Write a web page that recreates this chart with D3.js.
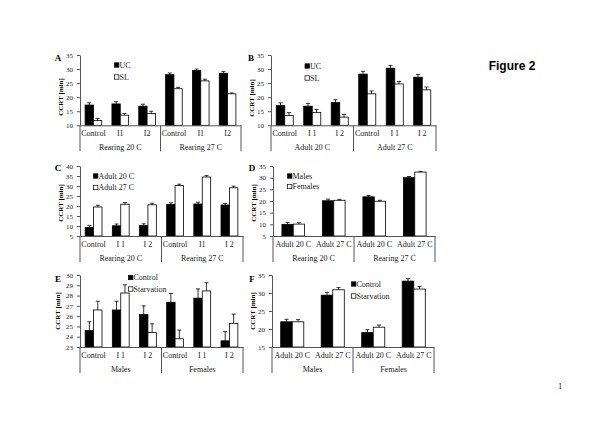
<!DOCTYPE html>
<html><head><meta charset="utf-8">
<script src="https://cdn.jsdelivr.net/npm/d3@7"></script>
<style>body{margin:0;background:#fff}svg{display:block}</style>
</head><body>
<svg id="c" width="600" height="424"></svg>
<script>
// ---- Panel A ----
const aCats = ["Control","I1","I2","Control","I1","I2"];
const aGroups = ["Rearing 20 C","Rearing 27 C"];
const aSeries = ["UC","SL"];
const aBlack = [17.2, 17.6, 16.8, 28.0, 29.5, 28.5];
const aBlackErr = [0.8, 0.8, 0.7, 0.6, 0.5, 0.6];
const aWhite = [11.7, 13.6, 14.2, 23.0, 25.8, 21.2];
const aWhiteErr = [0.7, 0.6, 0.8, 0.5, 0.6, 0.3];
const aTicks = [10, 15, 20, 25, 30, 35];
// ---- Panel B ----
const bCats = ["Control","I 1","I 2","Control","I 1","I 2"];
const bGroups = ["Adult 20 C","Adult 27 C"];
const bSeries = ["UC","SL"];
const bBlack = [17.0, 16.8, 18.1, 28.2, 30.3, 27.1];
const bBlackErr = [1.0, 1.0, 1.0, 1.0, 1.0, 1.0];
const bWhite = [13.5, 14.6, 12.9, 21.2, 24.7, 22.6];
const bWhiteErr = [1.0, 1.0, 1.0, 1.0, 0.9, 1.0];
const bTicks = [10, 15, 20, 25, 30, 35];
// ---- Panel C ----
const cCats = ["Control","I 1","I 2","Control","I1","I 2"];
const cGroups = ["Rearing 20 C","Rearing 27 C"];
const cSeries = ["Adult 20 C","Adult 27 C"];
const cBlack = [9.3, 10.1, 10.2, 20.8, 21.0, 20.5];
const cBlackErr = [1.0, 0.9, 0.9, 0.8, 0.9, 0.8];
const cWhite = [19.5, 20.9, 20.6, 30.3, 34.5, 29.1];
const cWhiteErr = [0.9, 0.8, 0.8, 0.6, 0.7, 0.8];
const cTicks = [5, 10, 15, 20, 25, 30, 35, 40];
// ---- Panel D ----
const dCats = ["Adult 20 C","Adult 27 C","Adult 20 C","Adult 27 C"];
const dGroups = ["Rearing 20 C","Rearing 27 C"];
const dSeries = ["Males","Females"];
const dBlack = [10.0, 20.1, 21.8, 30.0];
const dBlackErr = [0.8, 0.7, 0.6, 0.5];
const dWhite = [10.1, 20.3, 19.9, 32.4];
const dWhiteErr = [0.6, 0.4, 0.4, 0.3];
const dTicks = [5, 10, 15, 20, 25, 30, 35];
// ---- Panel E ----
const eCats = ["Control","I 1","I 2","Control","I 1","I 2"];
const eGroups = ["Males","Females"];
const eSeries = ["Control","Starvation"];
const eBlack = [24.6, 26.6, 26.15, 27.35, 27.75, 23.6];
const eBlackErr = [0.85, 0.85, 0.85, 0.85, 0.9, 0.9];
const eWhite = [26.6, 28.25, 24.4, 23.8, 28.45, 25.3];
const eWhiteErr = [0.85, 0.8, 0.85, 0.85, 0.8, 0.9];
const eTicks = [23, 24, 25, 26, 27, 28, 29, 30];
// ---- Panel F ----
const fCats = ["Adult 20 C","Adult 27 C","Adult 20 C","Adult 27 C"];
const fGroups = ["Males","Females"];
const fSeries = ["Control","Starvation"];
const fBlack = [22.0, 29.4, 19.0, 33.3];
const fBlackErr = [0.7, 0.8, 0.8, 0.7];
const fWhite = [22.0, 30.9, 20.5, 31.1];
const fWhiteErr = [0.6, 0.6, 0.6, 0.7];
const fTicks = [15, 20, 25, 30, 35];

const panels = [
  {letter:"A", cats:aCats, groups:aGroups, series:aSeries, black:aBlack, blackErr:aBlackErr, white:aWhite, whiteErr:aWhiteErr, ticks:aTicks,
   x0:80, x1:241, yTop:55, yBot:125.3, frac:0.62, lx:58, ly:61, tx:61, ty:97, legX:116.5, legY:[65,77]},
  {letter:"B", cats:bCats, groups:bGroups, series:bSeries, black:bBlack, blackErr:bBlackErr, white:bWhite, whiteErr:bWhiteErr, ticks:bTicks,
   x0:271, x1:436, yTop:55, yBot:125.3, frac:0.62, lx:251, ly:61, tx:252, ty:98, legX:307, legY:[66,78]},
  {letter:"C", cats:cCats, groups:cGroups, series:cSeries, black:cBlack, blackErr:cBlackErr, white:cWhite, whiteErr:cWhiteErr, ticks:cTicks,
   x0:80, x1:243, yTop:166, yBot:236, frac:0.62, lx:58, ly:171, tx:61, ty:203, legX:95.5, legY:[176,187.5]},
  {letter:"D", cats:dCats, groups:dGroups, series:dSeries, black:dBlack, blackErr:dBlackErr, white:dWhite, whiteErr:dWhiteErr, ticks:dTicks,
   x0:273, x1:435, yTop:166, yBot:236, frac:0.56, lx:252, ly:171, tx:254, ty:203, legX:289.5, legY:[176,186.5]},
  {letter:"E", cats:eCats, groups:eGroups, series:eSeries, black:eBlack, blackErr:eBlackErr, white:eWhite, whiteErr:eWhiteErr, ticks:eTicks,
   x0:80, x1:243, yTop:275, yBot:347, frac:0.62, lx:58, ly:282, tx:58, ty:311, legX:130.5, legY:[277.5,289]},
  {letter:"F", cats:fCats, groups:fGroups, series:fSeries, black:fBlack, blackErr:fBlackErr, white:fWhite, whiteErr:fWhiteErr, ticks:fTicks,
   x0:272, x1:434, yTop:275, yBot:347, frac:0.57, lx:252, ly:282, tx:253, ty:311, legX:353.5, legY:[284,296]}
];

const svg = d3.select("#c");
svg.append("rect").attr("width",600).attr("height",424).attr("fill","#fff");
const SERIF = "'Liberation Serif','Times New Roman',serif";
const AX = "#555";

function drawPanel(p) {
  const g = svg.append("g");
  const y = d3.scaleLinear().domain([p.ticks[0], p.ticks[p.ticks.length-1]]).range([p.yBot, p.yTop]);
  const x = d3.scaleBand().domain(d3.range(p.cats.length)).range([p.x0, p.x1]).padding(0);
  const bw = x.bandwidth();
  const pairW = bw * p.frac;
  const xs = d3.scaleBand().domain([0,1]).range([0, pairW]);
  const sets = [
    {vals:p.black, errs:p.blackErr, fill:"#000"},
    {vals:p.white, errs:p.whiteErr, fill:"#fff"}
  ];
  sets.forEach((s, si) => {
    const bx = i => x(i) + (bw - pairW)/2 + xs(si);
    g.selectAll(null).data(s.vals).join("rect")
      .attr("x", (d,i) => bx(i))
      .attr("y", d => y(d))
      .attr("width", xs.bandwidth())
      .attr("height", d => p.yBot - y(d))
      .attr("fill", s.fill)
      .attr("stroke", "#000").attr("stroke-width", 0.8);
    const eg = g.selectAll(null).data(s.vals).join("g");
    eg.append("line")
      .attr("x1", (d,i) => bx(i) + xs.bandwidth()/2)
      .attr("x2", (d,i) => bx(i) + xs.bandwidth()/2)
      .attr("y1", d => y(d))
      .attr("y2", (d,i) => y(d + s.errs[i]))
      .attr("stroke", "#000").attr("stroke-width", 0.8);
    eg.append("line")
      .attr("x1", (d,i) => bx(i) + xs.bandwidth()/2 - 2)
      .attr("x2", (d,i) => bx(i) + xs.bandwidth()/2 + 2)
      .attr("y1", (d,i) => y(d + s.errs[i]))
      .attr("y2", (d,i) => y(d + s.errs[i]))
      .attr("stroke", "#000").attr("stroke-width", 0.8);
  });

  // y axis
  const ya = g.append("g").attr("transform", `translate(${p.x0},0)`)
    .call(d3.axisLeft(y).tickValues(p.ticks).tickFormat(d3.format("d")).tickSize(3).tickSizeOuter(0).tickPadding(4));
  ya.select(".domain").attr("stroke", AX);
  ya.selectAll(".tick line").attr("stroke", AX);
  ya.selectAll("text").attr("font-family", SERIF).attr("font-size", 7).attr("fill", "#222");

  // x axis
  const xa = g.append("g").attr("transform", `translate(0,${p.yBot})`)
    .call(d3.axisBottom(x).tickSize(0).tickPadding(5.5).tickFormat(i => p.cats[i]));
  xa.select(".domain").attr("stroke", AX);
  xa.selectAll("text").attr("font-family", SERIF).attr("font-size", 8).attr("fill", "#222");

  // group separators
  const half = p.cats.length / 2;
  const sepX = [p.x0, x(half), p.x1];
  g.selectAll(null).data(sepX).join("line")
    .attr("x1", d => d).attr("x2", d => d)
    .attr("y1", p.yBot).attr("y2", p.yBot + 26)
    .attr("stroke", AX).attr("stroke-width", 1);
  g.selectAll(null).data(p.groups).join("text")
    .attr("x", (d,i) => (sepX[i] + sepX[i+1]) / 2)
    .attr("y", p.yBot + 24.5)
    .attr("text-anchor", "middle")
    .attr("font-family", SERIF).attr("font-size", 8).attr("fill", "#222")
    .text(d => d);

  // panel letter
  g.append("text").attr("x", p.lx).attr("y", p.ly).attr("text-anchor", "middle")
    .attr("font-family", SERIF).attr("font-weight", "bold").attr("font-size", 9).text(p.letter);
  // y title
  g.append("text").attr("transform", `translate(${p.tx},${p.ty}) rotate(-90)`)
    .attr("text-anchor", "middle").attr("dy", "0.35em")
    .attr("font-family", SERIF).attr("font-weight", "bold").attr("font-size", 7).text("CCRT [min]");

  // legend
  p.series.forEach((name, si) => {
    const ly = p.legY[si];
    g.append("rect").attr("x", p.legX - 2).attr("y", ly - 2.2).attr("width", 4.4).attr("height", 4.4)
      .attr("fill", si === 0 ? "#000" : "#fff").attr("stroke", "#000").attr("stroke-width", 0.7);
    g.append("text").attr("x", p.legX + 3).attr("y", ly).attr("dy", "0.35em")
      .attr("font-family", SERIF).attr("font-size", 8).attr("fill", "#222").text(name);
  });
}

panels.forEach(drawPanel);

svg.append("text").attr("x", 512).attr("y", 69.5).attr("text-anchor", "middle")
  .attr("font-family", "'Liberation Sans', Arial, sans-serif").attr("font-weight", "bold")
  .attr("font-size", 12).text("Figure 2");
svg.append("text").attr("x", 560).attr("y", 389).attr("text-anchor", "middle")
  .attr("font-family", SERIF).attr("font-size", 7.5).text("1");
</script>
</body></html>
